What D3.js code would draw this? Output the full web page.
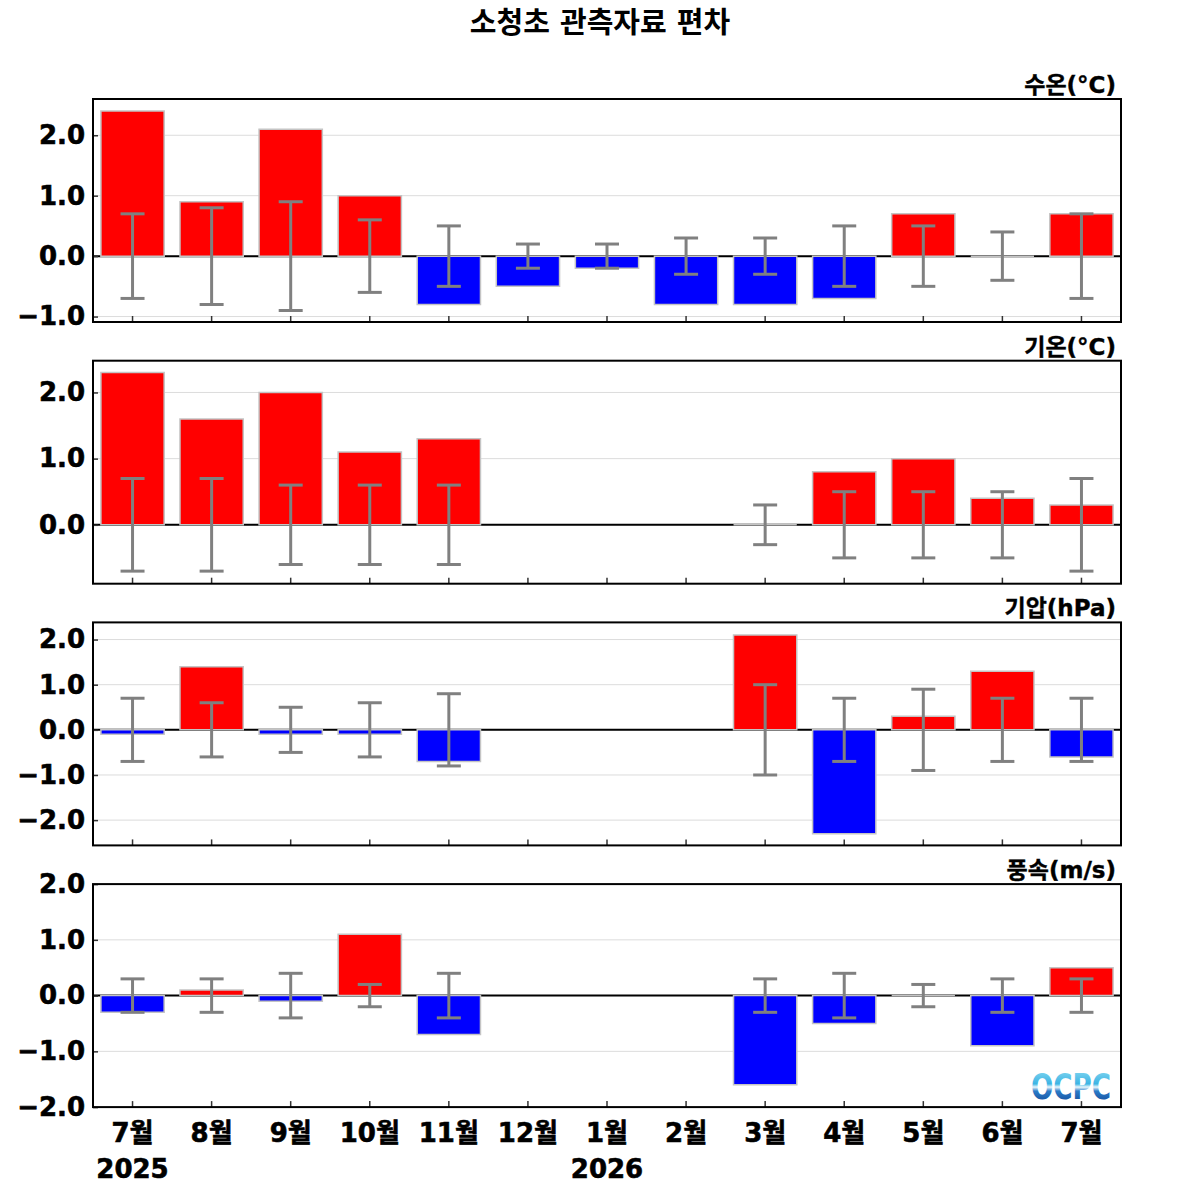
<!DOCTYPE html>
<html>
<head>
<meta charset="utf-8">
<script src="https://cdn.jsdelivr.net/npm/d3@7"></script>
<style>
  body { margin: 0; background: #fff; }
  text { font-family: "DejaVu Sans", "Noto Sans CJK KR", sans-serif; font-weight: bold; }
</style>
</head>
<body>
<div id="chart"></div>
<script>
// months on the x axis (two 7월, one per year)
var months = ["7월", "8월", "9월", "10월", "11월", "12월", "1월", "2월", "3월", "4월", "5월", "6월", "7월"];
var yearLabels = ["2025", "", "", "", "", "", "2026", "", "", "", "", "", ""];

// panel titles
var panelTitles = ["수온(°C)", "기온(°C)", "기압(hPa)", "풍속(m/s)"];

// anomalies (null = no data)
var waterTemp = [2.4, 0.9, 2.1, 1.0, -0.8, -0.5, -0.2, -0.8, -0.8, -0.7, 0.7, 0.0, 0.7];
var waterTempStd = [0.7, 0.8, 0.9, 0.6, 0.5, 0.2, 0.2, 0.3, 0.3, 0.5, 0.5, 0.4, 0.7];

var airTemp = [2.3, 1.6, 2.0, 1.1, 1.3, null, null, null, 0.0, 0.8, 1.0, 0.4, 0.3];
var airTempStd = [0.7, 0.7, 0.6, 0.6, 0.6, null, null, null, 0.3, 0.5, 0.5, 0.5, 0.7];

var pressure = [-0.1, 1.4, -0.1, -0.1, -0.7, null, null, null, 2.1, -2.3, 0.3, 1.3, -0.6];
var pressureStd = [0.7, 0.6, 0.5, 0.6, 0.8, null, null, null, 1.0, 0.7, 0.9, 0.7, 0.7];

var windSpeed = [-0.3, 0.1, -0.1, 1.1, -0.7, null, null, null, -1.6, -0.5, 0.0, -0.9, 0.5];
var windSpeedStd = [0.3, 0.3, 0.4, 0.2, 0.4, null, null, null, 0.3, 0.4, 0.2, 0.3, 0.3];

// y limits of each panel and the tick values
var yLimits = [[-1.09, 2.6], [-0.89, 2.48], [-2.56, 2.38], [-2.0, 2.0]];
var yTickValues = [-2.0, -1.0, 0.0, 1.0, 2.0];

var panels = [
  {title: panelTitles[0], values: waterTemp, std: waterTempStd, lim: yLimits[0]},
  {title: panelTitles[1], values: airTemp, std: airTempStd, lim: yLimits[1]},
  {title: panelTitles[2], values: pressure, std: pressureStd, lim: yLimits[2]},
  {title: panelTitles[3], values: windSpeed, std: windSpeedStd, lim: yLimits[3]}
];

var svgWidth = 1200;
var svgHeight = 1200;

var margin = {top: 99, left: 93, right: 79};
var width = svgWidth - margin.left - margin.right;
var panelHeight = 223;
var panelStep = 261.7;

var svg = d3.select("#chart")
  .append("svg")
  .attr("width", svgWidth)
  .attr("height", svgHeight);

// title
svg.append("text")
  .attr("x", 600)
  .attr("y", 33)
  .attr("text-anchor", "middle")
  .attr("font-size", "29px")
  .attr("font-family", "'Noto Sans CJK KR', sans-serif")
  .attr("font-weight", 900)
  .text("소청초 관측자료 편차");

// shared x scale
var xScale = d3.scaleBand()
  .domain(d3.range(months.length))
  .range([0, width])
  .paddingInner(0.2)
  .paddingOuter(0.1);

var capHalf = 12;

panels.forEach(function(p, i) {
  var top = margin.top + i * panelStep;

  var g = svg.append("g")
    .attr("transform", `translate(${margin.left}, ${top})`);

  var yScale = d3.scaleLinear()
    .domain(p.lim)
    .range([panelHeight, 0]);

  var ticks = yTickValues.filter(t => t >= p.lim[0] - 1e-6 && t <= p.lim[1] + 1e-6);

  // grid lines
  g.selectAll(".grid")
    .data(ticks)
    .enter()
    .append("line")
    .attr("x1", 0)
    .attr("x2", width)
    .attr("y1", d => yScale(d))
    .attr("y2", d => yScale(d))
    .attr("stroke", "#dcdcdc")
    .attr("stroke-width", 1);

  // zero line
  g.append("line")
    .attr("x1", 0)
    .attr("x2", width)
    .attr("y1", yScale(0))
    .attr("y2", yScale(0))
    .attr("stroke", "#000")
    .attr("stroke-width", 2);

  var data = p.values.map((v, j) => ({i: j, v: v, s: p.std[j]}))
    .filter(d => d.v !== null);

  // bars as paths so zero-height bars still show their edge
  g.selectAll(".bar")
    .data(data)
    .enter()
    .append("path")
    .attr("d", function(d) {
      var x0 = xScale(d.i);
      var y0 = yScale(0);
      var y1 = yScale(d.v);
      return `M${x0},${y0}V${y1}H${x0 + xScale.bandwidth()}V${y0}Z`;
    })
    .attr("fill", d => d.v > 0 ? "#ff0000" : (d.v < 0 ? "#0000ff" : "none"))
    .attr("stroke", "#c4c4c4")
    .attr("stroke-width", 1.5);

  // error bars around zero
  var err = g.selectAll(".err")
    .data(data)
    .enter()
    .append("g")
    .attr("stroke", "#808080")
    .attr("stroke-width", 3);

  err.append("line")
    .attr("x1", d => xScale(d.i) + xScale.bandwidth() / 2)
    .attr("x2", d => xScale(d.i) + xScale.bandwidth() / 2)
    .attr("y1", d => yScale(-d.s))
    .attr("y2", d => yScale(d.s));

  err.append("line")
    .attr("x1", d => xScale(d.i) + xScale.bandwidth() / 2 - capHalf)
    .attr("x2", d => xScale(d.i) + xScale.bandwidth() / 2 + capHalf)
    .attr("y1", d => yScale(d.s))
    .attr("y2", d => yScale(d.s));

  err.append("line")
    .attr("x1", d => xScale(d.i) + xScale.bandwidth() / 2 - capHalf)
    .attr("x2", d => xScale(d.i) + xScale.bandwidth() / 2 + capHalf)
    .attr("y1", d => yScale(-d.s))
    .attr("y2", d => yScale(-d.s));

  // y axis, ticks pointing inward
  var leftAxis = d3.axisLeft(yScale)
    .tickValues(ticks)
    .tickFormat(d3.format(".1f"))
    .tickSizeInner(-5)
    .tickSizeOuter(0)
    .tickPadding(8);

  var yAxis = g.append("g").call(leftAxis);
  yAxis.select(".domain").remove();
  yAxis.selectAll("line").attr("stroke", "#333").attr("stroke-width", 1.5);
  yAxis.selectAll("text")
    .attr("font-size", "26px")
    .attr("fill", "#000")
    .attr("stroke", "#000")
    .attr("stroke-width", 0.6);

  // x axis ticks, inward
  var bottomAxis = d3.axisBottom(xScale)
    .tickFormat("")
    .tickSizeInner(-6)
    .tickSizeOuter(0);

  var xAxis = g.append("g")
    .attr("transform", `translate(0, ${panelHeight})`)
    .call(bottomAxis);
  xAxis.select(".domain").remove();
  xAxis.selectAll("line").attr("stroke", "#333").attr("stroke-width", 1.5);

  // frame
  g.append("rect")
    .attr("x", 0)
    .attr("y", 0)
    .attr("width", width)
    .attr("height", panelHeight)
    .attr("fill", "none")
    .attr("stroke", "#000")
    .attr("stroke-width", 2);

  // panel title
  g.append("text")
    .attr("x", width - 5)
    .attr("y", -6)
    .attr("text-anchor", "end")
    .attr("font-size", "23px")
    .attr("stroke", "#000")
    .attr("stroke-width", 0.4)
    .text(p.title);

  // month and year labels under last panel
  if (i === panels.length - 1) {
    g.selectAll(".month")
      .data(months)
      .enter()
      .append("text")
      .attr("x", (d, j) => xScale(j) + xScale.bandwidth() / 2)
      .attr("y", panelHeight + 35)
      .attr("text-anchor", "middle")
      .attr("font-size", "26px")
      .attr("stroke", "#000")
      .attr("stroke-width", 0.6)
      .text(d => d);

    g.selectAll(".year")
      .data(yearLabels)
      .enter()
      .append("text")
      .attr("x", (d, j) => xScale(j) + xScale.bandwidth() / 2)
      .attr("y", panelHeight + 71)
      .attr("text-anchor", "middle")
      .attr("font-size", "26px")
      .attr("stroke", "#000")
      .attr("stroke-width", 0.6)
      .text(d => d);

    // OCPC logo
    var grad = svg.append("defs")
      .append("linearGradient")
      .attr("id", "logoGrad")
      .attr("x1", 0).attr("y1", 0)
      .attr("x2", 0).attr("y2", 1);
    grad.append("stop").attr("offset", "0%").attr("stop-color", "#8fdcf2");
    grad.append("stop").attr("offset", "42%").attr("stop-color", "#3cb4e4");
    grad.append("stop").attr("offset", "50%").attr("stop-color", "#e8f6fc");
    grad.append("stop").attr("offset", "60%").attr("stop-color", "#2c7cc8");
    grad.append("stop").attr("offset", "100%").attr("stop-color", "#0a3c8c");

    g.append("text")
      .attr("x", width - 90)
      .attr("y", panelHeight - 8)
      .attr("font-family", "'Noto Sans', sans-serif")
      .attr("font-weight", 900)
      .attr("font-size", "35px")
      .attr("textLength", 80)
      .attr("lengthAdjust", "spacingAndGlyphs")
      .attr("fill", "url(#logoGrad)")
      .text("OCPC");
  }
});
</script>
</body>
</html>
